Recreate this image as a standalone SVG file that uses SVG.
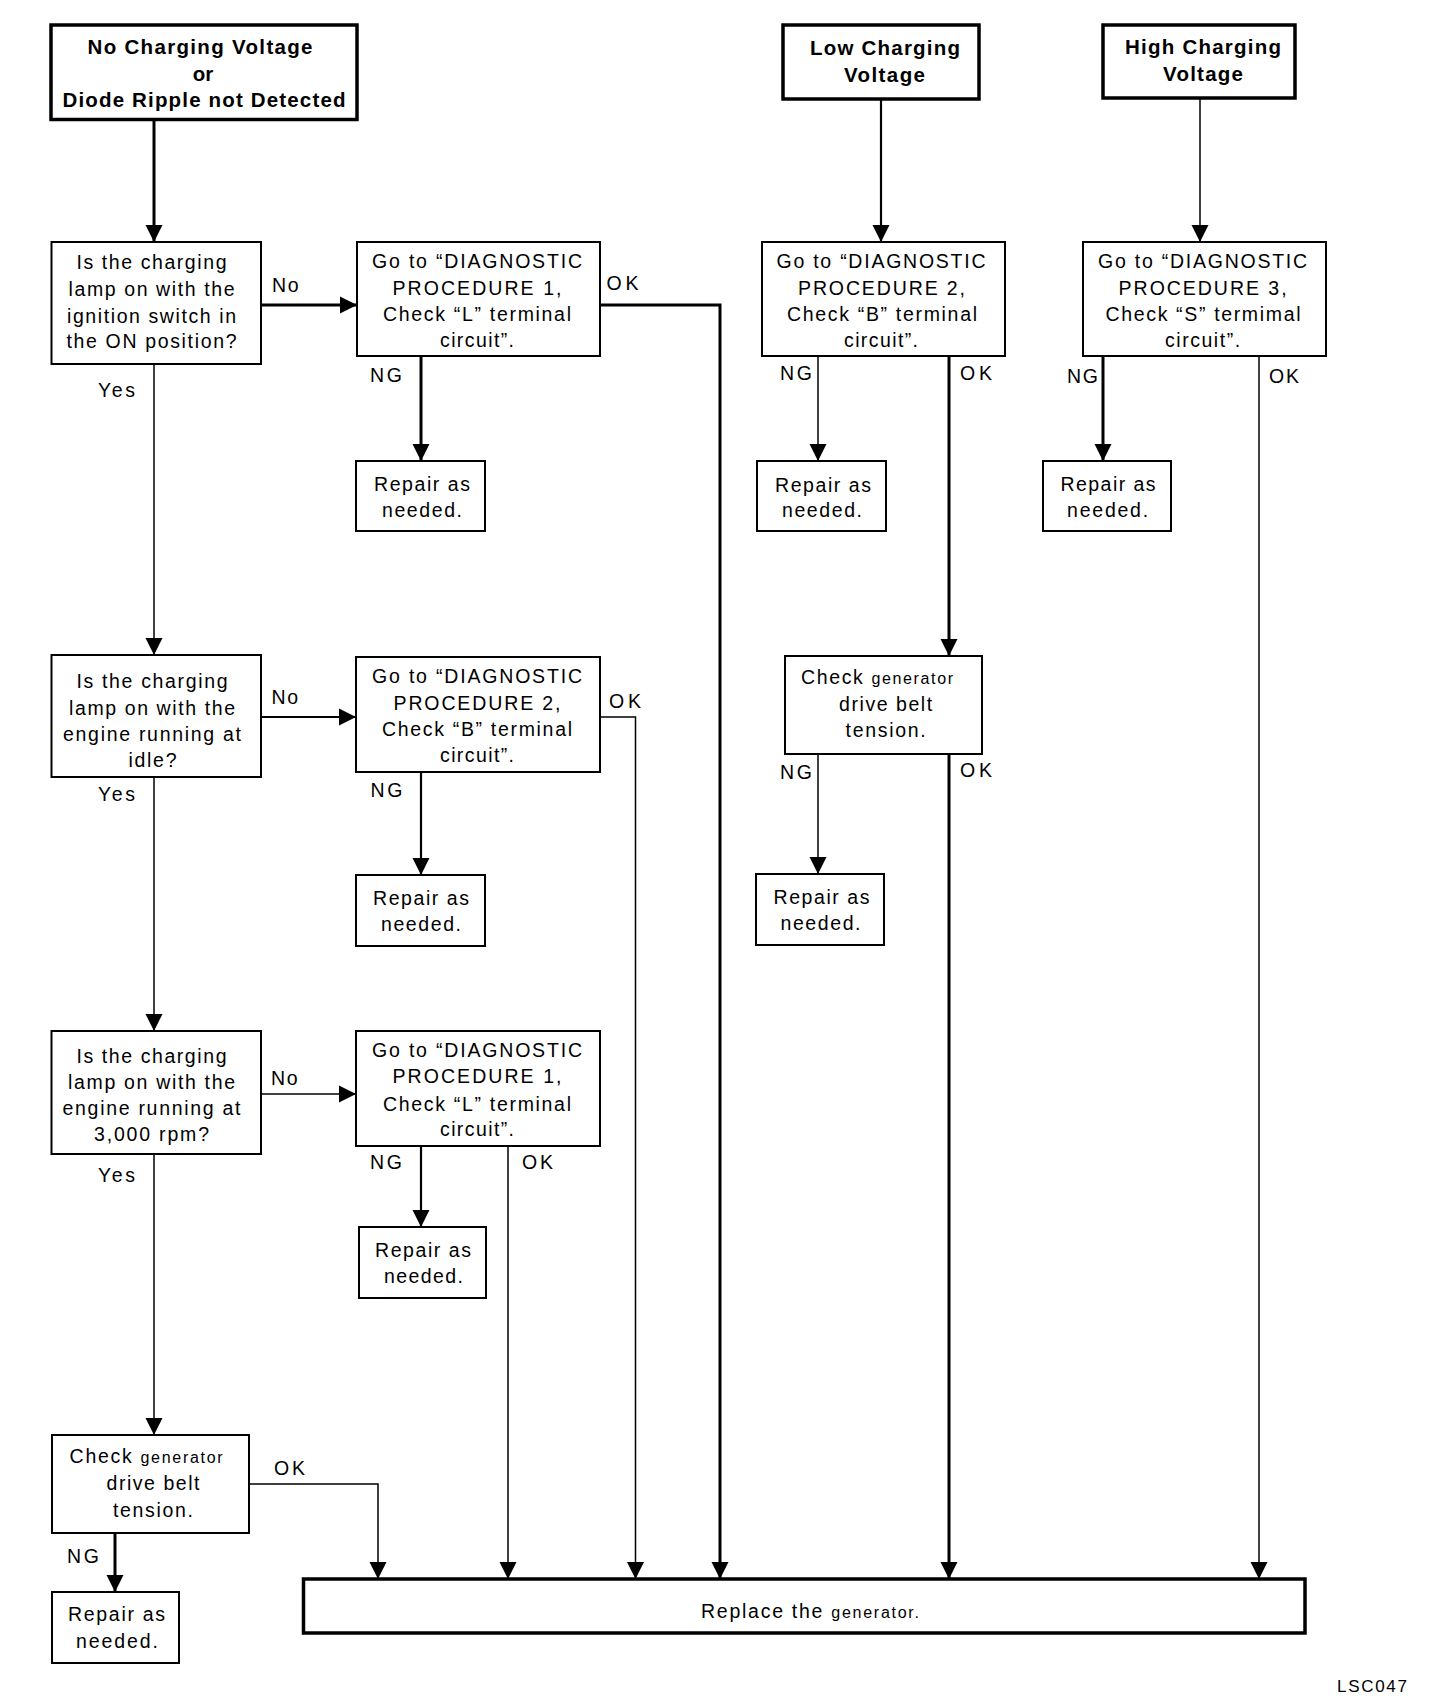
<svg xmlns="http://www.w3.org/2000/svg" width="1456" height="1704" viewBox="0 0 1456 1704">
<defs>
<marker id="ah" markerUnits="userSpaceOnUse" markerWidth="18" markerHeight="18" viewBox="0 0 18 18" refX="17" refY="9" orient="auto">
<path d="M0,0.5 L17,9 L0,17.5 z" fill="#000"/>
</marker>
<style>
.b{fill:#fff;stroke:#000;stroke-width:2}
.bt{fill:#fff;stroke:#000;stroke-width:3.5}
text{font-family:"Liberation Sans",Arial,Helvetica,sans-serif;font-size:19.5px;fill:#000}
.h{font-weight:bold;font-size:20.5px}
.m{text-anchor:middle}
.s{font-size:16px}
.k{fill:none;stroke:#000;marker-end:url(#ah)}
.w1{stroke-width:1.5}
.w2{stroke-width:2.2}
.w3{stroke-width:3}
</style>
</defs>
<rect width="1456" height="1704" fill="#fff"/>

<g id="connectors">
<path class="k w3" d="M154,119.5 V242"/>
<path class="k w3" d="M261,305 H357"/>
<path class="k w3" d="M600,305 H720 V1579"/>
<path class="k w3" d="M421,356 V461"/>
<path class="k w1" d="M154,364 V655"/>
<path class="k w2" d="M261,717 H356"/>
<path class="k w1" d="M600,717 H635.5 V1579"/>
<path class="k w2" d="M421,772 V875"/>
<path class="k w1" d="M154,777 V1031"/>
<path class="k w1" d="M261,1094 H356"/>
<path class="k w2" d="M421,1146 V1227"/>
<path class="k w1" d="M508,1146 V1579"/>
<path class="k w1" d="M154,1154 V1435"/>
<path class="k w1" d="M249,1484 H378 V1579"/>
<path class="k w3" d="M115,1533 V1592"/>
<path class="k w2" d="M881,99 V242"/>
<path class="k w1" d="M818,356 V461"/>
<path class="k w3" d="M949,356 V656"/>
<path class="k w1" d="M818,754 V874"/>
<path class="k w3" d="M949,754 V1579"/>
<path class="k w1" d="M1200,98 V242"/>
<path class="k w3" d="M1103,356 V461"/>
<path class="k w1" d="M1259,356 V1579"/>
</g>

<g id="edge-labels">
<text x="272" y="291.5" textLength="26.5" lengthAdjust="spacing">No</text>
<text x="606.5" y="290" textLength="32" lengthAdjust="spacing">OK</text>
<text x="370" y="382" textLength="32" lengthAdjust="spacing">NG</text>
<text x="98" y="397" textLength="37" lengthAdjust="spacing">Yes</text>
<text x="271.5" y="704" textLength="26.5" lengthAdjust="spacing">No</text>
<text x="609" y="707.5" textLength="32" lengthAdjust="spacing">OK</text>
<text x="370.5" y="797" textLength="32" lengthAdjust="spacing">NG</text>
<text x="98" y="800.7" textLength="37" lengthAdjust="spacing">Yes</text>
<text x="271" y="1085" textLength="26.5" lengthAdjust="spacing">No</text>
<text x="370" y="1169" textLength="32" lengthAdjust="spacing">NG</text>
<text x="522" y="1169" textLength="31" lengthAdjust="spacing">OK</text>
<text x="98" y="1182" textLength="37" lengthAdjust="spacing">Yes</text>
<text x="274" y="1475" textLength="31" lengthAdjust="spacing">OK</text>
<text x="67" y="1562.7" textLength="32" lengthAdjust="spacing">NG</text>
<text x="780" y="380" textLength="32" lengthAdjust="spacing">NG</text>
<text x="960" y="379.5" textLength="32" lengthAdjust="spacing">OK</text>
<text x="780" y="779" textLength="32" lengthAdjust="spacing">NG</text>
<text x="960" y="777" textLength="32" lengthAdjust="spacing">OK</text>
<text x="1067" y="382.7" textLength="31" lengthAdjust="spacing">NG</text>
<text x="1269" y="382.7" textLength="30" lengthAdjust="spacing">OK</text>
</g>

<g id="n-no-charging">
<rect class="bt" x="51" y="25" width="306" height="94.5"/>
<text class="h m" x="200" y="54" textLength="225" lengthAdjust="spacing">No Charging Voltage</text>
<text class="h m" x="203" y="80.5">or</text>
<text class="h m" x="204" y="107" textLength="283" lengthAdjust="spacing">Diode Ripple not Detected</text>
</g>

<g id="n-q1">
<rect class="b" x="51.5" y="242" width="209.5" height="122"/>
<text class="m" x="151.5" y="269.3" textLength="150" lengthAdjust="spacing">Is the charging</text>
<text class="m" x="151.5" y="296" textLength="166" lengthAdjust="spacing">lamp on with the</text>
<text class="m" x="151.5" y="322.7" textLength="169" lengthAdjust="spacing">ignition switch in</text>
<text class="m" x="151.5" y="348.3" textLength="170" lengthAdjust="spacing">the ON position?</text>
</g>

<g id="n-dp1-a">
<rect class="b" x="357" y="242" width="243" height="114"/>
<text class="m" x="477" y="268.3" textLength="210" lengthAdjust="spacing">Go to “DIAGNOSTIC</text>
<text class="m" x="477" y="295" textLength="169" lengthAdjust="spacing">PROCEDURE 1,</text>
<text class="m" x="477" y="321" textLength="188" lengthAdjust="spacing">Check “L” terminal</text>
<text class="m" x="477" y="346.7" textLength="74" lengthAdjust="spacing">circuit”.</text>
</g>

<g id="n-repair-1">
<rect class="b" x="356" y="461" width="129" height="70"/>
<text class="m" x="422" y="490.7" textLength="96" lengthAdjust="spacing">Repair as</text>
<text class="m" x="422" y="516.7" textLength="80" lengthAdjust="spacing">needed.</text>
</g>

<g id="n-q2">
<rect class="b" x="51.5" y="655" width="209.5" height="122"/>
<text class="m" x="152" y="688.3" textLength="151" lengthAdjust="spacing">Is the charging</text>
<text class="m" x="152" y="715" textLength="166" lengthAdjust="spacing">lamp on with the</text>
<text class="m" x="152" y="740.7" textLength="178" lengthAdjust="spacing">engine running at</text>
<text class="m" x="152.5" y="766.7" textLength="48" lengthAdjust="spacing">idle?</text>
</g>

<g id="n-dp2-a">
<rect class="b" x="356" y="657" width="244" height="115"/>
<text class="m" x="477" y="683.3" textLength="210" lengthAdjust="spacing">Go to “DIAGNOSTIC</text>
<text class="m" x="477" y="710" textLength="167" lengthAdjust="spacing">PROCEDURE 2,</text>
<text class="m" x="477" y="736" textLength="190" lengthAdjust="spacing">Check “B” terminal</text>
<text class="m" x="477" y="761.7" textLength="74" lengthAdjust="spacing">circuit”.</text>
</g>

<g id="n-repair-2">
<rect class="b" x="356" y="875" width="129" height="71"/>
<text class="m" x="421" y="904.5" textLength="96" lengthAdjust="spacing">Repair as</text>
<text class="m" x="421" y="930.5" textLength="80" lengthAdjust="spacing">needed.</text>
</g>

<g id="n-q3">
<rect class="b" x="51.5" y="1031" width="209.5" height="123"/>
<text class="m" x="151.5" y="1062.7" textLength="150" lengthAdjust="spacing">Is the charging</text>
<text class="m" x="151.5" y="1089.3" textLength="167" lengthAdjust="spacing">lamp on with the</text>
<text class="m" x="151.5" y="1115" textLength="178" lengthAdjust="spacing">engine running at</text>
<text class="m" x="151.5" y="1140.7" textLength="115" lengthAdjust="spacing">3,000 rpm?</text>
</g>

<g id="n-dp1-b">
<rect class="b" x="356" y="1031" width="244" height="115"/>
<text class="m" x="477" y="1056.7" textLength="210" lengthAdjust="spacing">Go to “DIAGNOSTIC</text>
<text class="m" x="477" y="1083.3" textLength="169" lengthAdjust="spacing">PROCEDURE 1,</text>
<text class="m" x="477" y="1110.7" textLength="188" lengthAdjust="spacing">Check “L” terminal</text>
<text class="m" x="477" y="1136" textLength="74" lengthAdjust="spacing">circuit”.</text>
</g>

<g id="n-repair-3">
<rect class="b" x="359" y="1227" width="127" height="71"/>
<text class="m" x="423" y="1256.7" textLength="96" lengthAdjust="spacing">Repair as</text>
<text class="m" x="423.5" y="1282.7" textLength="79" lengthAdjust="spacing">needed.</text>
</g>

<g id="n-belt-1">
<rect class="b" x="52" y="1435" width="197" height="98"/>
<text x="69.6" y="1463" textLength="153" lengthAdjust="spacing">Check <tspan class="s">generator</tspan></text>
<text class="m" x="153" y="1490" textLength="93" lengthAdjust="spacing">drive belt</text>
<text class="m" x="153" y="1516.7" textLength="80" lengthAdjust="spacing">tension.</text>
</g>

<g id="n-repair-4">
<rect class="b" x="52" y="1592" width="127" height="71"/>
<text class="m" x="116.5" y="1620.7" textLength="97" lengthAdjust="spacing">Repair as</text>
<text class="m" x="117" y="1648.3" textLength="82" lengthAdjust="spacing">needed.</text>
</g>

<g id="n-replace">
<rect class="bt" x="303.5" y="1579" width="1001.5" height="54"/>
<text x="701" y="1618.3" textLength="218" lengthAdjust="spacing">Replace the <tspan class="s">generator.</tspan></text>
</g>

<g id="n-low">
<rect class="bt" x="783" y="25" width="196" height="74"/>
<text class="h m" x="885" y="55" textLength="150" lengthAdjust="spacing">Low Charging</text>
<text class="h m" x="884.5" y="81.5" textLength="81" lengthAdjust="spacing">Voltage</text>
</g>

<g id="n-dp2-b">
<rect class="b" x="762" y="242" width="243" height="114"/>
<text class="m" x="881" y="268" textLength="209" lengthAdjust="spacing">Go to “DIAGNOSTIC</text>
<text class="m" x="881.5" y="295" textLength="167" lengthAdjust="spacing">PROCEDURE 2,</text>
<text class="m" x="882" y="320.7" textLength="190" lengthAdjust="spacing">Check “B” terminal</text>
<text class="m" x="881" y="346.7" textLength="74" lengthAdjust="spacing">circuit”.</text>
</g>

<g id="n-repair-5">
<rect class="b" x="757" y="461" width="129" height="70"/>
<text class="m" x="823" y="491.5" textLength="96" lengthAdjust="spacing">Repair as</text>
<text class="m" x="822" y="517" textLength="80" lengthAdjust="spacing">needed.</text>
</g>

<g id="n-belt-2">
<rect class="b" x="785" y="656" width="197" height="98"/>
<text x="801" y="684" textLength="152" lengthAdjust="spacing">Check <tspan class="s">generator</tspan></text>
<text class="m" x="885.6" y="710.7" textLength="93" lengthAdjust="spacing">drive belt</text>
<text class="m" x="885.6" y="736.8" textLength="80" lengthAdjust="spacing">tension.</text>
</g>

<g id="n-repair-6">
<rect class="b" x="756" y="874" width="128" height="71"/>
<text class="m" x="821.5" y="903.6" textLength="96" lengthAdjust="spacing">Repair as</text>
<text class="m" x="820.5" y="930.4" textLength="80" lengthAdjust="spacing">needed.</text>
</g>

<g id="n-high">
<rect class="bt" x="1103" y="25" width="192" height="73"/>
<text class="h m" x="1203" y="54" textLength="156" lengthAdjust="spacing">High Charging</text>
<text class="h m" x="1203" y="80.7" textLength="80" lengthAdjust="spacing">Voltage</text>
</g>

<g id="n-dp3">
<rect class="b" x="1083" y="242" width="243" height="114"/>
<text class="m" x="1202.6" y="268" textLength="209" lengthAdjust="spacing">Go to “DIAGNOSTIC</text>
<text class="m" x="1202.6" y="295" textLength="168" lengthAdjust="spacing">PROCEDURE 3,</text>
<text class="m" x="1203" y="320.7" textLength="195" lengthAdjust="spacing">Check “S” termimal</text>
<text class="m" x="1202.6" y="346.7" textLength="75" lengthAdjust="spacing">circuit”.</text>
</g>

<g id="n-repair-7">
<rect class="b" x="1043" y="461" width="128" height="70"/>
<text class="m" x="1108" y="491" textLength="95" lengthAdjust="spacing">Repair as</text>
<text class="m" x="1107.6" y="517" textLength="81" lengthAdjust="spacing">needed.</text>
</g>

<g id="caption">
<text x="1337" y="1691.5" style="font-size:17px" textLength="70" lengthAdjust="spacing">LSC047</text>
</g>
</svg>
